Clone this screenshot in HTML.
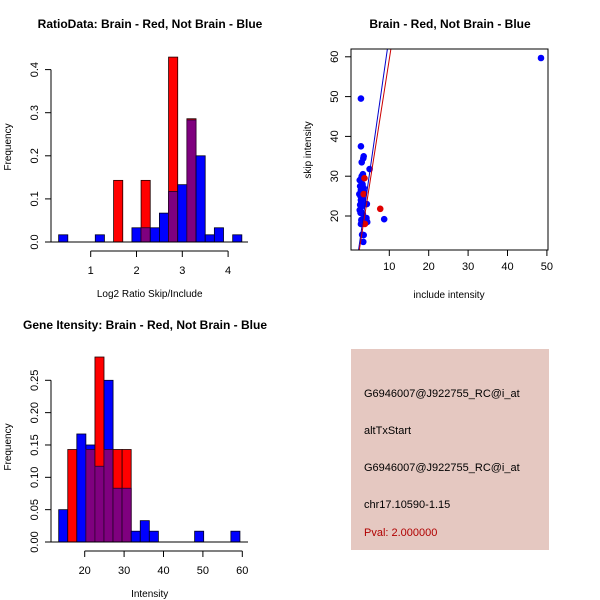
<!DOCTYPE html>
<html><head><meta charset="utf-8"><style>
body{margin:0;background:#fff}
svg{display:block;font-family:"Liberation Sans",Arial,sans-serif}
</style></head><body>
<svg id="s" width="600" height="600" viewBox="0 0 600 600">
<rect width="600" height="600" fill="#fff"/>
<g id="g1"></g>
<g id="g2"></g>
<g id="g3"></g>
<g>
<rect x="351" y="349" width="198" height="201" fill="#e5c8c1"/>
<text x="364" y="397" font-size="11" fill="#000">G6946007@J922755_RC@i_at</text>
<text x="364" y="434" font-size="11" fill="#000">altTxStart</text>
<text x="364" y="471" font-size="11" fill="#000">G6946007@J922755_RC@i_at</text>
<text x="364" y="508" font-size="11" fill="#000">chr17.10590-1.15</text>
<text x="364" y="536" font-size="11" fill="#b00000">Pval: 2.000000</text>
</g>
</svg>
<script>
// Histogram 1 data (bins start 0.3, width 0.2)
const ratioBinStarts=[0.3,0.5,0.7,0.9,1.1,1.3,1.5,1.7,1.9,2.1,2.3,2.5,2.7,2.9,3.1,3.3,3.5,3.7,3.9,4.1];
const ratioBlue=[0.0167,0,0,0,0.0167,0,0,0,0.033,0.033,0.033,0.067,0.117,0.133,0.283,0.2,0.0167,0.033,0,0.0167];
const ratioRed=[0,0,0,0,0,0,0.143,0,0,0.143,0,0,0.429,0,0.286,0,0,0,0,0];
const ratioXTicks=[1,2,3,4];
const ratioYTicks=["0.0","0.1","0.2","0.3","0.4"];
// Histogram 2 data (bins start 13.4, width 2.3)
const intBinStarts=[13.4,15.7,18,20.3,22.6,24.9,27.2,29.5,31.8,34.1,36.4,38.7,41,43.3,45.6,47.9,50.2,52.5,54.8,57.1];
const intBlue=[0.05,0,0.167,0.15,0.117,0.25,0.083,0.083,0.0167,0.033,0.0167,0,0,0,0,0.0167,0,0,0,0.0167];
const intRed=[0,0.143,0,0.143,0.286,0.143,0.143,0.143,0,0,0,0,0,0,0,0,0,0,0,0];
const intXTicks=[20,30,40,50,60];
const intYTicks=["0.00","0.05","0.10","0.15","0.20","0.25"];
// Scatter data
const blueInclude=[2.8,2.8,3.0,3.5,3.4,5.0,2.5,3.0,3.3,2.9,3.2,2.6,3.5,2.8,3.1,2.4,3.6,2.7,3.0,3.3,2.9,4.3,2.6,3.1,2.5,2.9,3.3,2.7,4.2,2.9,3.5,4.4,8.7,2.8,3.1,3.5,3.4,48.5,3.2,2.8];
const blueSkip=[49.5,37.5,33.5,35,34.5,31.8,29,30,30.5,29.5,28,27.5,27,26.5,26,25.5,26,25,24.5,24.3,23.5,23,22.8,22.5,21.5,21,20.5,20.8,19.5,19,18.7,18.5,19.2,18,15.3,15.2,13.5,59.7,27.5,24];
const redInclude=[7.7,3.8,3.5,3.7];
const redSkip=[21.8,18,25.5,29.5];
const blueFit=[-3.7,6.9]; // intercept, slope
const redFit=[-3.6,6.3];
const scXTicks=[10,20,30,40,50];
const scYTicks=[20,30,40,50,60];

const NS="http://www.w3.org/2000/svg";
function mk(parent,tag,attrs,name,text){const e=document.createElementNS(NS,tag);for(const k in attrs)e.setAttribute(k,attrs[k]);


if(text!==undefined)e.textContent=text;parent.appendChild(e);return e;}

function hist(g,o){
  const X=v=>o.x0+(v-o.xv0)*o.xs, Y=v=>o.y0-v*o.ys;
  mk(g,'text',{x:o.tx,y:o.ty,'font-size':12,'font-weight':'bold','text-anchor':'middle'},'chart-title',o.title);
  o.starts.forEach((s,i)=>{
    const x=X(s),w=X(s+o.bw)-x,r=o.red[i],b=o.blue[i];
    if(r>0)mk(g,'rect',{x:x,y:Y(r),width:w,height:Y(0)-Y(r),fill:'#ff0000',stroke:'#200000','stroke-width':0.8},'red-bar');
    if(b>0)mk(g,'rect',{x:x,y:Y(b),width:w,height:Y(0)-Y(b),fill:'#0000ff',stroke:'#000020','stroke-width':0.8},'blue-bar');
    const m=Math.min(r,b);
    if(m>0)mk(g,'rect',{x:x,y:Y(m),width:w,height:Y(0)-Y(m),fill:'#7f007f',stroke:'#300030','stroke-width':0.8},'overlap-bar');
  });
  mk(g,'line',{x1:o.axisL,x2:o.axisR,y1:Y(0),y2:Y(0),stroke:'#000'},'baseline');
  const xa=o.xt; const ay=Y(0)+9;
  mk(g,'line',{x1:X(xa[0]),x2:X(xa[xa.length-1]),y1:ay,y2:ay,stroke:'#000'},'x-axis');
  xa.forEach(t=>{mk(g,'line',{x1:X(t),x2:X(t),y1:ay,y2:ay+6,stroke:'#000'},'x-tick');
    mk(g,'text',{x:X(t),y:ay+23,'font-size':11,'text-anchor':'middle'},'x-tick-label',String(t));});
  const ax=51;
  mk(g,'line',{x1:ax,x2:ax,y1:Y(0),y2:Y(o.yv[o.yv.length-1]*1),stroke:'#000'},'y-axis');
  o.yt.forEach(t=>{const y=Y(parseFloat(t));mk(g,'line',{x1:ax-6,x2:ax,y1:y,y2:y,stroke:'#000'},'y-tick');
    mk(g,'text',{x:ax-13,y:y,'font-size':11,'text-anchor':'middle',transform:`rotate(-90 ${ax-13} ${y})`},'y-tick-label',t);});
  mk(g,'text',{x:o.x0+o.xlx,y:ay+46,'font-size':10,'text-anchor':'middle'},'x-axis-title',o.xlab);
  mk(g,'text',{x:11,y:o.ylY,'font-size':10,'text-anchor':'middle',transform:`rotate(-90 11 ${o.ylY})`},'y-axis-title','Frequency');
}
hist(document.getElementById('g1'),{x0:90.7,xv0:1,xs:45.8,y0:242,ys:431,starts:ratioBinStarts,bw:0.2,red:ratioRed,blue:ratioBlue,
  xt:ratioXTicks,yt:ratioYTicks,yv:[0.4],axisL:51,axisR:248,title:'RatioData: Brain - Red, Not Brain - Blue',tx:150,ty:28,
  xlab:'Log2 Ratio Skip/Include',xlx:59,ylY:147});
hist(document.getElementById('g3'),{x0:84.7,xv0:20,xs:3.94,y0:542,ys:646.8,starts:intBinStarts,bw:2.3,red:intRed,blue:intBlue,
  xt:intXTicks,yt:intYTicks,yv:[0.25],axisL:51,axisR:248,title:'Gene Itensity: Brain - Red, Not Brain - Blue',tx:145,ty:329,
  xlab:'Intensity',xlx:65,ylY:447});

// scatter
(function(){
  const g=document.getElementById('g2');
  const L=351,R=548,T=49,B=250;
  const X=v=>389.3+(v-10)*3.94, Y=v=>216-(v-20)*3.98;
  mk(g,'text',{x:450,y:28,'font-size':12,'font-weight':'bold','text-anchor':'middle'},'chart-title','Brain - Red, Not Brain - Blue');
  const defs=mk(g,'clipPath',{id:'cp'},'clip');
  mk(defs,'rect',{x:L,y:T,width:R-L,height:B-T},'clip-rect');
  const pg=mk(g,'g',{'clip-path':'url(#cp)'},'plot-area');
  blueInclude.forEach((v,i)=>mk(pg,'circle',{cx:X(v),cy:Y(blueSkip[i]),r:3.3,fill:'#0000ff'},'blue-point'));
  redInclude.forEach((v,i)=>mk(pg,'circle',{cx:X(v),cy:Y(redSkip[i]),r:3.3,fill:'#e00000'},'red-point'));
  function fit(f,c,n){const y1=5,y2=70;const x1=(y1-f[0])/f[1],x2=(y2-f[0])/f[1];
    mk(pg,'line',{x1:X(x1),y1:Y(y1),x2:X(x2),y2:Y(y2),stroke:c,'stroke-width':1},n);}
  fit(blueFit,'#0000cc','blue-fit-line');fit(redFit,'#cc0000','red-fit-line');
  mk(g,'rect',{x:L,y:T,width:R-L,height:B-T,fill:'none',stroke:'#000'},'plot-frame');
  scXTicks.forEach(t=>{mk(g,'line',{x1:X(t),x2:X(t),y1:B,y2:B+6,stroke:'#000'},'x-tick');
    mk(g,'text',{x:X(t),y:B+20,'font-size':11,'text-anchor':'middle'},'x-tick-label',String(t));});
  scYTicks.forEach(t=>{const y=Y(t);mk(g,'line',{x1:L-6,x2:L,y1:y,y2:y,stroke:'#000'},'y-tick');
    mk(g,'text',{x:L-13,y:y,'font-size':11,'text-anchor':'middle',transform:`rotate(-90 ${L-13} ${y})`},'y-tick-label',String(t));});
  mk(g,'text',{x:449,y:298,'font-size':10,'text-anchor':'middle'},'x-axis-title','include intensity');
  mk(g,'text',{x:311,y:150,'font-size':10,'text-anchor':'middle',transform:'rotate(-90 311 150)'},'y-axis-title','skip intensity');
})();
</script>
</body></html>
